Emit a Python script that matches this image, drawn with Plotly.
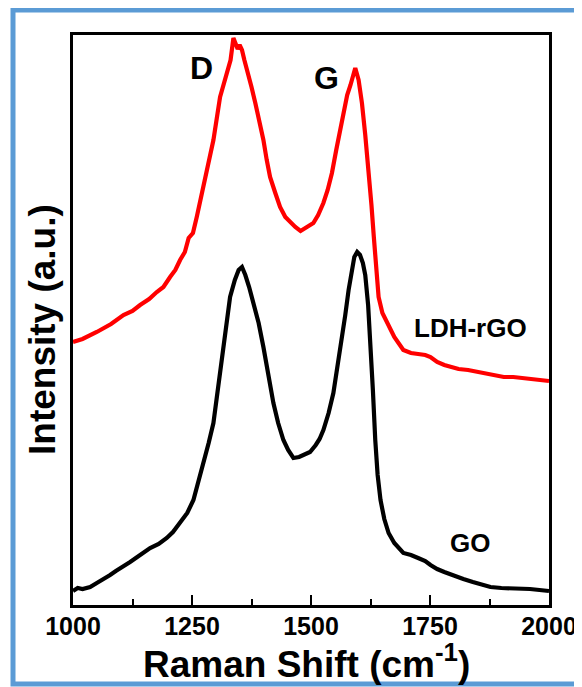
import plotly.graph_objects as go

# LDH-rGO (red) spectrum
rgo_x = [1000,1020,1050,1080,1106,1125,1141,1160,1176,1190,1204,1215,1225,1235,1243,1252,1260,1270,1281,1295,
         1309,1317,1324,1331,1337,1341,1346,1350,1355,1360,1366,1375,1383,1392,1400,1407,1414,1425,1435,1446,
         1457,1467,1478,1488,1499,1505,1515,1526,1535,1544,1553,1562,1570,1576,1583,1588,1593,1600,1607,1614,
         1621,1627,1632,1637,1642,1650,1660,1675,1694,1710,1725,1740,1751,1765,1780,1793,1810,1830,1849,1870,
         1890,1905,1925,1945,1965,1980,2000]
rgo_y = [263,266,273,281,290,294,300,306,313,318,328,335,345,353,367,372,388,410,435,465,
         508,522,532,545,567,562,556,560,555,545,535,518,502,483,465,445,428,412,398,388,
         382,378,374,377,380,382,390,402,415,432,455,478,497,510,520,530,537,525,502,470,
         435,400,368,335,308,292,282,268,255,252,251,250,248,243,240,238,236,235,233,231,
         229,228,228,227,226,226,224]

# GO (black) spectrum
go_x = [1000,1010,1020,1036,1050,1065,1078,1090,1105,1120,1135,1150,1162,1180,1197,1210,1225,1240,1253,1263,
        1274,1285,1295,1304,1313,1322,1330,1340,1348,1355,1362,1370,1379,1390,1400,1410,1421,1431,1442,1452,
        1463,1475,1488,1498,1510,1518,1526,1537,1547,1556,1565,1572,1579,1586,1591,1597,1603,1609,1614,1620,
        1625,1630,1635,1640,1646,1654,1663,1675,1694,1710,1725,1740,1751,1765,1780,1795,1807,1820,1840,1860,
        1877,1900,1920,1940,1960,1980,2000]
go_y = [14,17,16,18,22,26,30,34,38,43,48,53,57,61,67,73,82,92,105,122,
        142,162,182,215,248,282,308,325,335,338,330,318,302,282,258,230,202,182,165,155,
        147,148,151,153,160,166,175,192,212,238,265,290,315,335,348,353,350,342,330,300,
        265,215,165,130,105,86,72,62,52,50,47,44,40,36,33,30,28,26,23,20,
        18,17,17,17,16,15,14]

x_ticks = [1000, 1250, 1500, 1750, 2000]
peak_labels = ["D", "G"]
peak_pos_x = [1269, 1532]
peak_pos_y = [537, 527]
series_labels = ["LDH-rGO", "GO"]
series_label_x = [1835, 1833]
series_label_y = [277, 62]

FONT = "Liberation Sans, Arial, sans-serif"

# page body adds an 8px offset, so the figure is drawn 8px smaller and shifted
OFF = 8
W, H = 582 - OFF, 687 - OFF
L, T = 73 - OFF, 35 - OFF
PW, PH = 476, 570


def px_x(p):
    return (p - OFF - L) / PW


def px_y(p):
    return (T + PH - (p - OFF)) / PH


fig = go.Figure()
fig.add_trace(go.Scatter(x=rgo_x, y=rgo_y, mode="lines", line=dict(color="#FF0000", width=4.2),
                         name="LDH-rGO", showlegend=False))
fig.add_trace(go.Scatter(x=go_x, y=go_y, mode="lines", line=dict(color="#000000", width=4.2),
                         name="GO", showlegend=False))

for t, xx, yy in zip(peak_labels, peak_pos_x, peak_pos_y):
    fig.add_annotation(x=xx, y=yy, text=t, showarrow=False,
                       font=dict(family=FONT, size=32, color="black", weight="bold"))
for t, xx, yy in zip(series_labels, series_label_x, series_label_y):
    fig.add_annotation(x=xx, y=yy, text=t, showarrow=False,
                       font=dict(family=FONT, size=26, color="black", weight="bold"))

# axis titles
fig.add_annotation(xref="paper", yref="paper", x=px_x(42), y=px_y(330),
                   text="Intensity (a.u.)", textangle=-90, showarrow=False,
                   xanchor="center", yanchor="middle",
                   font=dict(family=FONT, size=37, color="black", weight="bold"))
fig.add_annotation(xref="paper", yref="paper", x=px_x(306), y=px_y(661),
                   text="Raman Shift (cm<sup>-1</sup>)", showarrow=False,
                   xanchor="center", yanchor="middle",
                   font=dict(family=FONT, size=37, color="black", weight="bold"))

fig.update_layout(
    width=W, height=H,
    margin=dict(l=L, r=W - L - PW, t=T, b=H - T - PH, pad=0, autoexpand=False),
    paper_bgcolor="white", plot_bgcolor="white",
    showlegend=False,
    xaxis=dict(
        range=[1000, 2000], tickvals=x_ticks, ticktext=[str(v) for v in x_ticks],
        ticks="inside", ticklen=10, tickwidth=2, tickcolor="black",
        minor=dict(tickvals=[1125, 1375, 1625, 1875], ticks="inside", ticklen=6, tickwidth=2, tickcolor="black"),
        showline=True, linewidth=2.5, linecolor="black", mirror=True,
        showgrid=False, zeroline=False, automargin=False,
        ticklabelstandoff=-3,
        tickfont=dict(family=FONT, size=25, color="black", weight="bold"),
    ),
    yaxis=dict(
        range=[0, 570], showticklabels=False, ticks="",
        showline=True, linewidth=2.5, linecolor="black", mirror=True,
        showgrid=False, zeroline=False, automargin=False,
    ),
)

# outer blue frame around the whole picture
fig.add_shape(type="rect", xref="paper", yref="paper",
              x0=px_x(13), x1=px_x(579), y0=px_y(684), y1=px_y(10),
              line=dict(color="#5B9BD5", width=5), fillcolor="rgba(0,0,0,0)", layer="above")

fig.write_html("out.html")
